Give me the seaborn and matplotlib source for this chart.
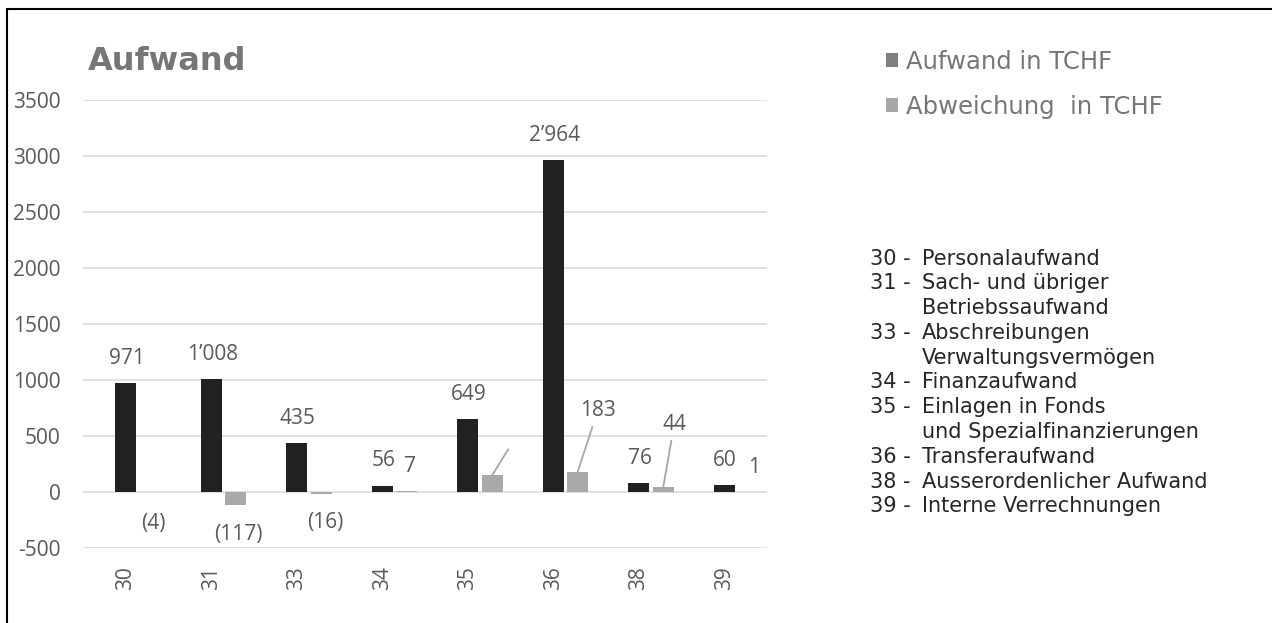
import matplotlib

matplotlib.use("Agg")
import matplotlib.pyplot as plt
import pandas as pd
import seaborn as sns
from matplotlib.patches import Patch, Rectangle

categories = ["30", "31", "33", "34", "35", "36", "38", "39"]
aufwand = [971, 1008, 435, 56, 649, 2964, 76, 60]
abweichung = [-4, -117, -16, 7, 150, 183, 44, 1]
series_names = ["Aufwand in TCHF", "Abweichung  in TCHF"]
y_ticks = [-500, 0, 500, 1000, 1500, 2000, 2500, 3000, 3500]
# label of category 35 is not shown in the original, only its leader line
hidden_labels = ["35"]
descriptions = [
    ("30", ["Personalaufwand"]),
    ("31", ["Sach- und übriger", "Betriebssaufwand"]),
    ("33", ["Abschreibungen", "Verwaltungsvermögen"]),
    ("34", ["Finanzaufwand"]),
    ("35", ["Einlagen in Fonds", "und Spezialfinanzierungen"]),
    ("36", ["Transferaufwand"]),
    ("38", ["Ausserordenlicher Aufwand"]),
    ("39", ["Interne Verrechnungen"]),
]

W, H = 1272, 623
BLACK = "#231F20"
GREY = "#A7A9AC"
TXT = "#595959"
NUM_FONT = ["Open Sans", "DejaVu Sans"]

# label offsets in pixels from the bar end (dx, dy)
black_offsets = [(1, 25)] * 8
grey_offsets = [(3, -31), (3, -29), (4, -29), (3, 25), (16, 26), (20, 61), (11, 63), (5, 24)]
leader = [False, False, False, False, True, True, True, False]


def fmt(v):
    s = f"{abs(v):,}".replace(",", "\u2019")
    return f"({s})" if v < 0 else s


def main():
    sns.set_theme(style="white")
    plt.rcParams["font.family"] = ["DejaVu Sans"]

    df = pd.DataFrame(
        {
            "Kategorie": categories * 2,
            "Serie": [series_names[0]] * len(categories) + [series_names[1]] * len(categories),
            "Wert": aufwand + abweichung,
        }
    )
    hue_order = ["_leer"] + series_names
    palette = {"_leer": "white", series_names[0]: BLACK, series_names[1]: GREY}

    fig = plt.figure(figsize=(W / 100, H / 100), dpi=100, facecolor="white")
    ax = fig.add_axes([83 / W, 1 - 548 / H, (767 - 83) / W, (548 - 100) / H])

    sns.barplot(
        data=df,
        x="Kategorie",
        y="Wert",
        hue="Serie",
        order=categories,
        hue_order=hue_order,
        palette=palette,
        width=0.86,
        gap=0.15,
        legend=False,
        linewidth=0,
        ax=ax,
    )

    ax.set_ylim(-500, 3500)
    ax.set_yticks(y_ticks)
    ax.set_yticklabels([str(t) for t in y_ticks], family=NUM_FONT)
    ax.set_xlabel("")
    ax.set_ylabel("")
    ax.yaxis.grid(True, color="#D9D9D9", linewidth=1.1)
    ax.set_axisbelow(True)
    for s in ax.spines.values():
        s.set_visible(False)
    ax.tick_params(axis="y", length=0, pad=16, labelsize=15, labelcolor=TXT)
    ax.tick_params(axis="x", length=0, pad=13, labelsize=15, labelcolor=TXT, rotation=90)
    for lab in ax.get_xticklabels():
        lab.set_family(NUM_FONT)

    bars_black = sorted(ax.containers[-2], key=lambda p: p.get_x())
    bars_grey = sorted(ax.containers[-1], key=lambda p: p.get_x())

    for p, v, (dx, dy) in zip(bars_black, aufwand, black_offsets):
        ax.annotate(
            fmt(v), (p.get_x() + p.get_width() / 2, v), xytext=(dx, dy),
            textcoords="offset pixels", ha="center", va="center",
            fontsize=15, color=TXT, family=NUM_FONT,
        )

    for p, v, cat, (dx, dy), lead in zip(bars_grey, abweichung, categories, grey_offsets, leader):
        xy = (p.get_x() + p.get_width() / 2, v)
        text = "" if cat in hidden_labels else fmt(v)
        arrow = None
        if lead:
            arrow = dict(arrowstyle="-", color="#A6A6A6", lw=1.3,
                         shrinkA=0 if text == "" else 2, shrinkB=0)
        ax.annotate(
            text, xy, xytext=(dx, dy), textcoords="offset pixels",
            ha="center", va="center", fontsize=15, color=TXT,
            family=NUM_FONT, arrowprops=arrow,
        )

    fig.text(88 / W, 1 - 61 / H, "Aufwand", fontsize=23, fontweight="bold",
             color="#767679", ha="left", va="center")

    handles = [Patch(facecolor="#7F7F7F", edgecolor="none"),
               Patch(facecolor="#A6A6A6", edgecolor="none")]
    fig.legend(
        handles, series_names, loc="upper left",
        bbox_to_anchor=(886 / W, 1 - 50 / H), frameon=False,
        fontsize=17.5, handlelength=0.5, handleheight=0.5,
        handletextpad=0.33, labelspacing=0.85, borderpad=0, borderaxespad=0,
        labelcolor="#76767A",
    )

    row = 0
    for code, lines in descriptions:
        for i, line in enumerate(lines):
            y = 1 - (258.5 + row * 24.8) / H
            if i == 0:
                fig.text(870 / W, y, f"{code} -", fontsize=15, color="#262626",
                         ha="left", va="center")
            fig.text(922 / W, y, line, fontsize=15, color="#262626",
                     ha="left", va="center")
            row += 1

    fig.add_artist(Rectangle((7 / W, -0.05), 1.2, (H - 9) / H + 0.05, fill=False,
                             edgecolor="black", linewidth=1.5,
                             transform=fig.transFigure))

    fig.savefig("out.png", dpi=100, facecolor="white")


if __name__ == "__main__":
    main()
